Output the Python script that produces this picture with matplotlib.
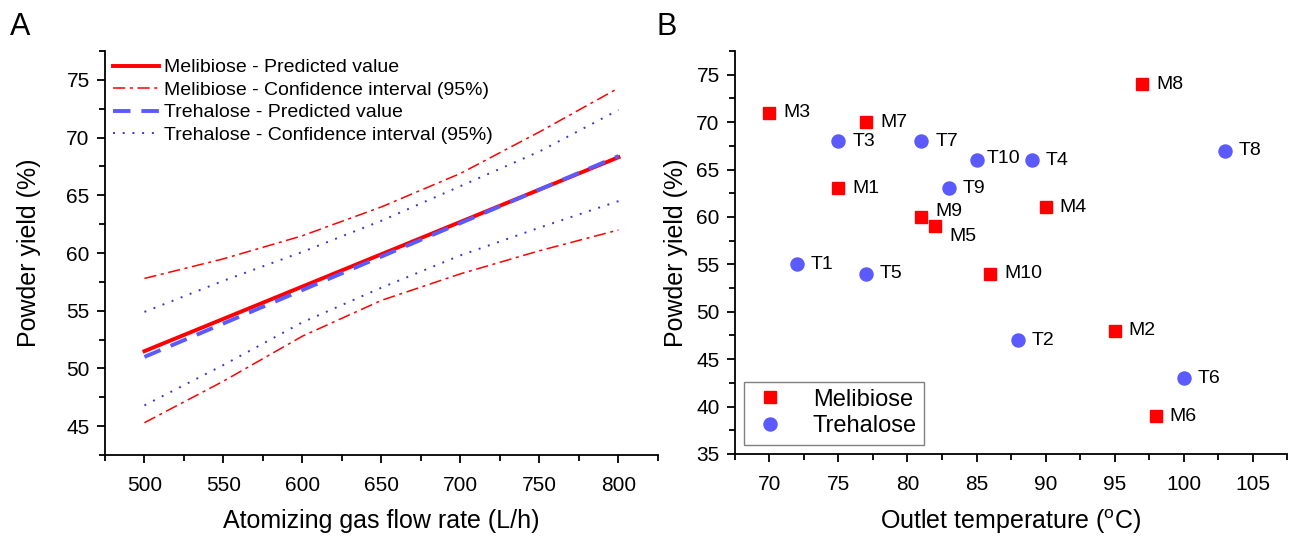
import numpy as np
import matplotlib
matplotlib.use('Agg')
import matplotlib.pyplot as plt
from matplotlib.ticker import MultipleLocator

plt.rcParams['font.family'] = ['Liberation Sans', 'DejaVu Sans']
plt.rcParams['mathtext.fontset'] = 'custom'
plt.rcParams['mathtext.rm'] = 'Liberation Sans'

# ---- panel A: predicted yield vs atomizing gas flow rate ----
flow = [500, 550, 600, 650, 700, 750, 800]
mel_pred = [51.5, 54.3, 57.1, 59.9, 62.7, 65.5, 68.3]
mel_upper = [57.8, 59.5, 61.5, 64.0, 66.9, 70.5, 74.3]
mel_lower = [45.3, 48.9, 52.8, 55.9, 58.2, 60.2, 62.0]
tre_pred = [51.0, 53.9, 56.8, 59.7, 62.6, 65.5, 68.4]
tre_upper = [54.9, 57.6, 60.1, 62.8, 65.8, 68.8, 72.4]
tre_lower = [46.8, 50.3, 54.0, 57.0, 59.8, 62.2, 64.5]

# ---- panel B: yield vs outlet temperature ----
mel_names = ['M1', 'M2', 'M3', 'M4', 'M5', 'M6', 'M7', 'M8', 'M9', 'M10']
mel_temp = [75, 95, 70, 90, 82, 98, 77, 97, 81, 86]
mel_yield = [63, 48, 71, 61, 59, 39, 70, 74, 60, 54]
tre_names = ['T1', 'T2', 'T3', 'T4', 'T5', 'T6', 'T7', 'T8', 'T9', 'T10']
tre_temp = [72, 88, 75, 89, 77, 100, 81, 103, 83, 85]
tre_yield = [55, 47, 68, 66, 54, 43, 68, 67, 63, 66]

# label offsets in points (default is right of the marker)
label_offset = {'M9': (10, 4), 'M5': (10, -7), 'T10': (7, 1)}

RED = '#ff0000'
BLUE = '#5a5aff'
DARKBLUE = '#3636d0'


def style_axes(ax):
    ax.spines['top'].set_visible(False)
    ax.spines['right'].set_visible(False)
    ax.spines['left'].set_linewidth(1.3)
    ax.spines['bottom'].set_linewidth(1.3)
    ax.tick_params(which='both', direction='out', width=1.3, labelsize=15)
    ax.tick_params(which='major', length=6)
    ax.tick_params(which='minor', length=4)
    ax.tick_params(axis='x', which='major', pad=9)
    ax.tick_params(axis='y', which='major', pad=5)


fig = plt.figure(figsize=(12.94, 5.40), dpi=100)
axA = fig.add_axes([0.0811, 0.1574, 0.4274, 0.748])
axB = fig.add_axes([0.5680, 0.1593, 0.4266, 0.7463])

# A
axA.plot(flow, mel_pred, color=RED, lw=2.8, label='Melibiose - Predicted value')
axA.plot(flow, mel_upper, color=RED, lw=1.1, ls=(0, (8, 3, 2, 3)),
         label='Melibiose - Confidence interval (95%)')
axA.plot(flow, mel_lower, color=RED, lw=1.1, ls=(0, (8, 3, 2, 3)))
axA.plot(flow, tre_pred, color=BLUE, lw=2.8, ls=(0, (4.5, 2.8)),
         label='Trehalose - Predicted value')
axA.plot(flow, tre_upper, color=DARKBLUE, lw=1.4, ls=(0, (1, 4)),
         label='Trehalose - Confidence interval (95%)')
axA.plot(flow, tre_lower, color=DARKBLUE, lw=1.4, ls=(0, (1, 4)))

axA.set_xlim(475, 825)
axA.set_ylim(42.5, 77.5)
axA.xaxis.set_major_locator(MultipleLocator(50))
axA.xaxis.set_minor_locator(MultipleLocator(25))
axA.yaxis.set_major_locator(MultipleLocator(5))
axA.yaxis.set_minor_locator(MultipleLocator(2.5))
style_axes(axA)
axA.set_xlabel('Atomizing gas flow rate (L/h)', fontsize=18, labelpad=10)
axA.set_ylabel('Powder yield (%)', fontsize=18, labelpad=18)
axA.legend(loc='upper left', bbox_to_anchor=(0, 1.0), frameon=False, fontsize=14,
           handlelength=2.4, handletextpad=0.25, labelspacing=0.25,
           borderaxespad=0.2, borderpad=0.2)

# B
axB.plot(mel_temp, mel_yield, ls='none', marker='s', ms=8.6, color=RED, label='Melibiose')
axB.plot(tre_temp, tre_yield, ls='none', marker='o', ms=9.4, color=BLUE, label='Trehalose')
for name, x, y in list(zip(mel_names, mel_temp, mel_yield)) + list(zip(tre_names, tre_temp, tre_yield)):
    axB.annotate(name, (x, y), xytext=label_offset.get(name, (10, 0)),
                 textcoords='offset points', ha='left', va='center', fontsize=14)

axB.set_xlim(67.5, 107.5)
axB.set_ylim(35, 77.5)
axB.xaxis.set_major_locator(MultipleLocator(5))
axB.xaxis.set_minor_locator(MultipleLocator(2.5))
axB.yaxis.set_major_locator(MultipleLocator(5))
axB.yaxis.set_minor_locator(MultipleLocator(2.5))
style_axes(axB)
axB.set_xlabel(r'Outlet temperature ($^{\mathrm{o}}$C)', fontsize=18, labelpad=10)
axB.set_ylabel('Powder yield (%)', fontsize=18, labelpad=6)
leg = axB.legend(loc='lower left', fontsize=17, fancybox=False, framealpha=1,
                 handletextpad=1.0, labelspacing=0.2, borderaxespad=0.4,
                 borderpad=0.3, handlelength=1.6)
leg.get_frame().set_edgecolor('#808080')
leg.get_frame().set_linewidth(1.0)

fig.text(0.008, 0.935, 'A', fontsize=22)
fig.text(0.507, 0.935, 'B', fontsize=22)

fig.savefig('out.png', dpi=100)
